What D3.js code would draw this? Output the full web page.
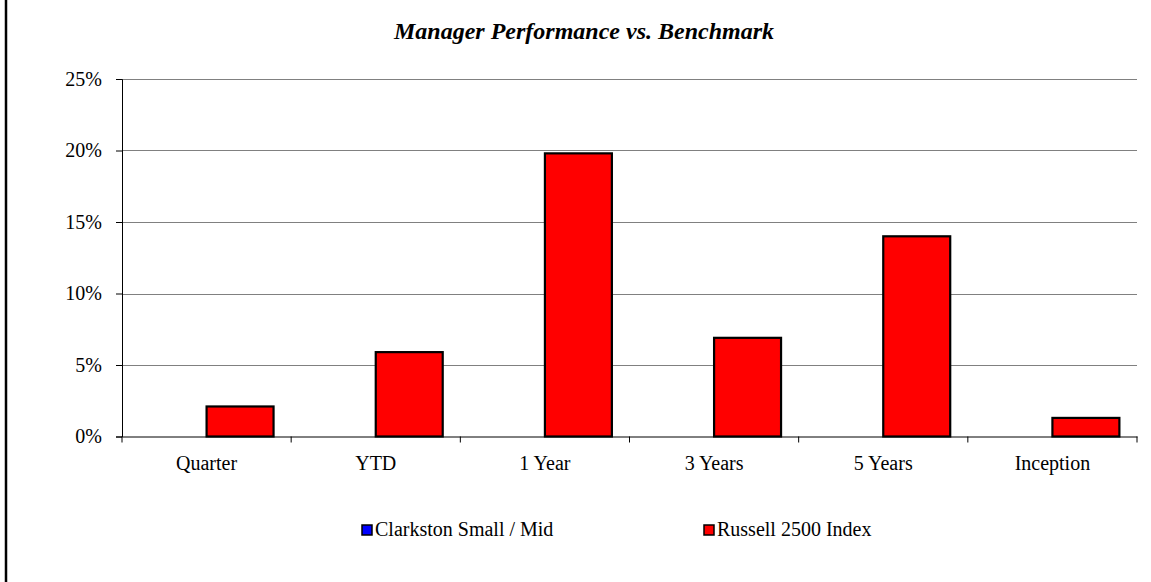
<!DOCTYPE html>
<html>
<head>
<meta charset="utf-8">
<script src="https://cdn.jsdelivr.net/npm/d3@7"></script>
<style>
  body { margin: 0; background: #fff; }
  text { font-family: "Liberation Serif", "Times New Roman", serif; }
</style>
</head>
<body>
<div id="chart"></div>
<script>
var categories = ["Quarter", "YTD", "1 Year", "3 Years", "5 Years", "Inception"];
var seriesNames = ["Clarkston Small / Mid", "Russell 2500 Index"];
var clarkston = [0, 0, 0, 0, 0, 0];
var russell = [2.1, 5.9, 19.8, 6.9, 14.0, 1.3];
var yTicks = [0, 5, 10, 15, 20, 25];
var colors = ["#0000ff", "#ff0000"];

var W = 1151, H = 582;
var margin = { top: 79, right: 14, bottom: 145.5, left: 122 };
var width = W - margin.left - margin.right,
    height = H - margin.top - margin.bottom;

var svg = d3.select("#chart").append("svg")
    .attr("width", W)
    .attr("height", H);

// left frame line
svg.append("line")
    .attr("x1", 6).attr("x2", 6)
    .attr("y1", 0).attr("y2", H)
    .attr("stroke", "#000").attr("stroke-width", 2.5);

svg.append("text")
    .attr("x", 584).attr("y", 39)
    .attr("text-anchor", "middle")
    .style("font-size", "24px")
    .style("font-weight", "bold")
    .style("font-style", "italic")
    .text("Manager Performance vs. Benchmark");

var g = svg.append("g")
    .attr("transform", "translate(" + margin.left + "," + margin.top + ")");

var x = d3.scaleBand()
    .domain(categories)
    .range([0, width])
    .paddingInner(0)
    .paddingOuter(0);

var xs = d3.scaleBand()
    .domain(seriesNames)
    .range([0, x.bandwidth()])
    .paddingInner(0)
    .paddingOuter(0.263);

var y = d3.scaleLinear()
    .domain([0, 25])
    .range([height, 0]);

// gridlines
g.selectAll(".grid")
    .data(yTicks.filter(function (d) { return d > 0; }))
    .enter().append("line")
    .attr("class", "grid")
    .attr("x1", 0).attr("x2", width)
    .attr("y1", function (d) { return Math.round(y(d)) + 0.5; })
    .attr("y2", function (d) { return Math.round(y(d)) + 0.5; })
    .attr("stroke", "#808080").attr("stroke-width", 1);

// y axis
var yAxis = g.append("g")
    .call(d3.axisLeft(y).tickValues(yTicks).tickSize(6).tickPadding(14)
        .tickFormat(function (d) { return d + "%"; }));
yAxis.select(".domain").attr("stroke", "#000");
yAxis.selectAll(".tick line").attr("stroke", "#000");
yAxis.selectAll("text")
    .style("font-size", "20px")
    .style("font-family", "Liberation Serif, serif")
    .attr("fill", "#000");

// bars
var data = categories.map(function (c, i) {
    return { cat: c, values: [clarkston[i], russell[i]] };
});

var groups = g.selectAll(".cat")
    .data(data)
    .enter().append("g")
    .attr("class", "cat")
    .attr("transform", function (d) { return "translate(" + x(d.cat) + ",0)"; });

groups.selectAll("rect")
    .data(function (d) { return d.values.map(function (v, j) { return { s: seriesNames[j], v: v, j: j }; }); })
    .enter().filter(function (d) { return d.v > 0; })
    .append("rect")
    .attr("x", function (d) { return xs(d.s); })
    .attr("width", xs.bandwidth())
    .attr("y", function (d) { return y(d.v); })
    .attr("height", function (d) { return height - y(d.v); })
    .attr("fill", function (d) { return colors[d.j]; })
    .attr("stroke", "#000")
    .attr("stroke-width", 2.2);

// x axis
var xAxis = g.append("g")
    .attr("transform", "translate(0," + height + ")")
    .call(d3.axisBottom(x).tickSize(0).tickPadding(19));
xAxis.select(".domain").attr("stroke", "#000");
xAxis.selectAll("text")
    .style("font-size", "20px")
    .style("font-family", "Liberation Serif, serif")
    .attr("fill", "#000");

// category boundary ticks
g.selectAll(".xtick")
    .data(d3.range(categories.length + 1))
    .enter().append("line")
    .attr("class", "xtick")
    .attr("x1", function (i) { return i * x.step(); })
    .attr("x2", function (i) { return i * x.step(); })
    .attr("y1", height).attr("y2", height + 6)
    .attr("stroke", "#000");

// legend
var legendX = [362, 704];
var legend = svg.selectAll(".legend")
    .data(seriesNames)
    .enter().append("g")
    .attr("class", "legend")
    .attr("transform", function (d, i) { return "translate(" + legendX[i] + ",525)"; });

legend.append("rect")
    .attr("width", 10).attr("height", 10)
    .attr("fill", function (d, i) { return colors[i]; })
    .attr("stroke", "#000").attr("stroke-width", 1.5);

legend.append("text")
    .attr("x", 13).attr("y", 10.5)
    .style("font-size", "20px")
    .text(function (d) { return d; });
</script>
</body>
</html>
